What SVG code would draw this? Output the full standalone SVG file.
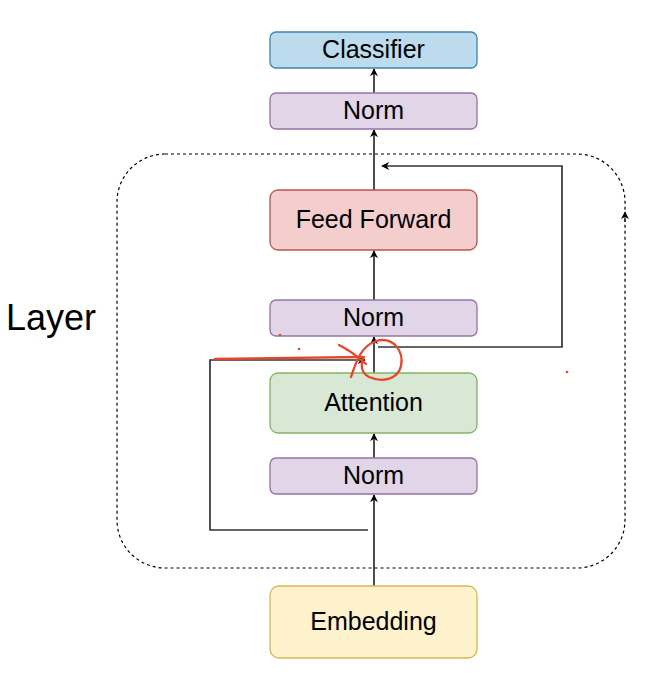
<svg xmlns="http://www.w3.org/2000/svg" width="656" height="688" viewBox="0 0 656 688">
<defs>
<marker id="arr" viewBox="0 0 10 10" refX="9" refY="5" markerWidth="8" markerHeight="8" markerUnits="userSpaceOnUse" orient="auto">
<path d="M0,0 L10,5 L0,10 L3,5 Z" fill="#000"/>
</marker>
<style>
.box{stroke-width:1.3}
.lbl{font-family:"Liberation Sans",Arial,sans-serif;font-size:25px;fill:#000;text-anchor:middle;dominant-baseline:central}
.edge{fill:none;stroke:#000;stroke-width:1.4}
.res{fill:none;stroke:#333;stroke-width:1.7}
.red{fill:none;stroke:#e8462a;stroke-width:2.3;stroke-linecap:round;stroke-linejoin:round}
</style>
</defs>
<rect width="656" height="688" fill="#fff"/>
<g id="layer">
<rect x="117" y="154" width="508" height="414" rx="48" fill="none" stroke="#000" stroke-width="1.2" stroke-dasharray="3 3"/>
<path d="M625,222 L625,212" fill="none" stroke="#000" stroke-width="1" marker-end="url(#arr)"/>
<text x="51" y="317" style="font-family:'Liberation Sans',Arial,sans-serif;font-size:36px;text-anchor:middle;dominant-baseline:central">Layer</text>
</g>
<g id="connectors">
<path class="edge" d="M374,586 L374,495" marker-end="url(#arr)"/>
<path class="edge" d="M374,458 L374,434" marker-end="url(#arr)"/>
<path class="edge" d="M374,373 L374,337" marker-end="url(#arr)"/>
<path class="edge" d="M374,300 L374,251" marker-end="url(#arr)"/>
<path class="edge" d="M374,190 L374,130" marker-end="url(#arr)"/>
<path class="edge" d="M374,93 L374,69" marker-end="url(#arr)"/>
<path class="res" d="M368,530 L210,530 L210,360 L365,360" marker-end="url(#arr)"/>
<path class="res" d="M378,347 L562,347 L562,166 L382,166" marker-end="url(#arr)"/>
</g>
<g id="classifier">
<rect class="box" x="270" y="32" width="207" height="36" rx="6" fill="#bcdcee" stroke="#3d84b3"/>
<text class="lbl" x="373.5" y="49">Classifier</text>
</g>
<g id="norm-top">
<rect class="box" x="270" y="93" width="207" height="36" rx="6" fill="#e1d5e7" stroke="#9673a6"/>
<text class="lbl" x="373.5" y="110">Norm</text>
</g>
<g id="feed-forward">
<rect class="box" x="270" y="190" width="207" height="60" rx="8" fill="#f4cecc" stroke="#b85450"/>
<text class="lbl" x="373.5" y="219">Feed Forward</text>
</g>
<g id="norm-mid">
<rect class="box" x="270" y="300" width="207" height="36" rx="6" fill="#e1d5e7" stroke="#9673a6"/>
<text class="lbl" x="373.5" y="317">Norm</text>
</g>
<g id="attention">
<rect class="box" x="270" y="373" width="207" height="60" rx="8" fill="#d8e8d5" stroke="#82b366"/>
<text class="lbl" x="373.5" y="402">Attention</text>
</g>
<g id="norm-bottom">
<rect class="box" x="270" y="458" width="207" height="36" rx="6" fill="#e1d5e7" stroke="#9673a6"/>
<text class="lbl" x="373.5" y="475">Norm</text>
</g>
<g id="embedding">
<rect class="box" x="270" y="586" width="207" height="72" rx="9" fill="#fdf2cc" stroke="#d6b656"/>
<text class="lbl" x="373.5" y="621">Embedding</text>
</g>
<g id="annotation">
<path class="red" d="M215,359 L362,357"/>
<path class="red" d="M339,345 Q353,352 366,364"/>
<path class="red" d="M351,377 C356,362 361,346 376,341 C394,336 404,352 401,366 C398,379 383,383 369,377 C361,373 360,364 364,357"/>
<circle cx="299" cy="349" r="1.3" fill="#e8462a"/>
<circle cx="280" cy="335" r="1.3" fill="#e8462a"/>
<circle cx="567" cy="372" r="1.3" fill="#e8462a"/>
<circle cx="347" cy="350" r="1.1" fill="#e8462a"/>
</g>
</svg>
